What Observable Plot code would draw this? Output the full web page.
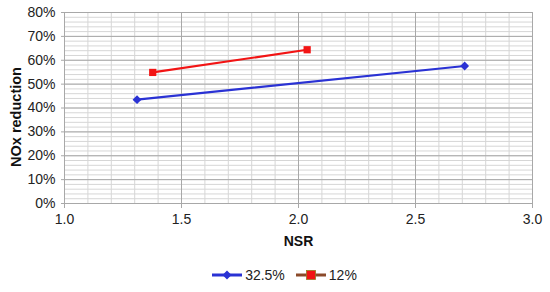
<!DOCTYPE html>
<html><head><meta charset="utf-8">
<script src="https://cdn.jsdelivr.net/npm/d3@7"></script>
<script src="https://cdn.jsdelivr.net/npm/@observablehq/plot@0.6"></script>
<style>
body{margin:0;background:#fff;font-family:"Liberation Sans",Arial,sans-serif;}
#legend{height:34px;display:flex;justify-content:center;align-items:center;gap:10px;font-size:14px;color:#222;padding-left:18px;box-sizing:border-box;}
.item{display:flex;align-items:center;gap:2px;}
</style></head><body>
<div id="chart"></div>
<div id="legend"></div>
<script>
const seriesNames = ["32.5%", "12%"];
const nsr325 = [1.31, 2.71];
const nox325 = [0.435, 0.576];
const nsr12 = [1.377, 2.037];
const nox12 = [0.549, 0.644];
const xTicks = [1.0, 1.5, 2.0, 2.5, 3.0];
const yTicks = [0, 0.1, 0.2, 0.3, 0.4, 0.5, 0.6, 0.7, 0.8];
const colors = ["#2a32d4", "#f21414"];

const data = [
  ...nsr325.map((x, i) => ({series: seriesNames[0], x, y: nox325[i]})),
  ...nsr12.map((x, i) => ({series: seriesNames[1], x, y: nox12[i]}))
];
const minorX = d3.range(1.0, 3.001, 0.1).map(v => +v.toFixed(2));
const minorY = d3.range(0, 0.8001, 0.02).map(v => +v.toFixed(3));

const chart = Plot.plot({
  width: 550, height: 258,
  marginTop: 12, marginBottom: 55, marginLeft: 64, marginRight: 18,
  style: {fontFamily: "Liberation Sans, Arial, sans-serif", fontSize: "14px", color: "#222", background: "#fff"},
  x: {domain: [1, 3], label: null},
  y: {domain: [0, 0.8], label: null},
  color: {domain: seriesNames, range: colors},
  marks: [
    Plot.ruleY(minorY, {stroke: "#d6d6d6", strokeWidth: 1}),
    Plot.ruleX(minorX, {stroke: "#d6d6d6", strokeWidth: 1}),
    Plot.ruleY(yTicks, {stroke: "#a8a8a8", strokeWidth: 1}),
    Plot.ruleX(xTicks, {stroke: "#a8a8a8", strokeWidth: 1}),
    Plot.frame({stroke: "#a8a8a8"}),
    Plot.axisX({ticks: xTicks, tickFormat: d3.format(".1f"), tickSize: 5, tickPadding: 6, stroke: "#a8a8a8", label: null}),
    Plot.axisY({ticks: yTicks, tickFormat: d3.format(".0%"), tickSize: 3, tickPadding: 6, stroke: "#a8a8a8", label: null}),
    Plot.line(data, {x: "x", y: "y", z: "series", stroke: "series", strokeWidth: 2.2}),
    Plot.dot(data.filter(d => d.series === seriesNames[0]), {x: "x", y: "y", symbol: "diamond2", r: 4, fill: colors[0], stroke: "none"}),
    Plot.dot(data.filter(d => d.series === seriesNames[1]), {x: "x", y: "y", symbol: "square2", r: 4.6, fill: colors[1], stroke: "none"}),
    Plot.text(["NSR"], {frameAnchor: "bottom", dy: 42, fontWeight: "bold", fontSize: 14, fill: "#111"}),
    Plot.text(["NOx reduction"], {frameAnchor: "left", textAnchor: "middle", dx: -48, dy: 9, rotate: -90, fontWeight: "bold", fontSize: 14.5, fill: "#111"})
  ]
});
document.getElementById("chart").append(chart);

const legend = document.getElementById("legend");
legend.innerHTML = `
<span class="item"><svg width="32" height="12"><line x1="1" y1="6" x2="31" y2="6" stroke="${colors[0]}" stroke-width="3"/><path d="M16 1.5 L20.5 6 L16 10.5 L11.5 6Z" fill="${colors[0]}"/></svg>${seriesNames[0]}</span>
<span class="item"><svg width="32" height="12"><line x1="1" y1="6" x2="31" y2="6" stroke="#8b4a2a" stroke-width="3"/><rect x="11.5" y="1.5" width="9" height="9" fill="${colors[1]}" stroke="#9a7a20" stroke-width="0.8"/></svg>${seriesNames[1]}</span>`;
</script>
</body></html>
